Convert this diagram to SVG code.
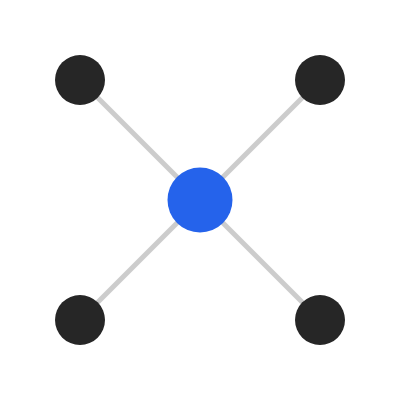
<svg xmlns="http://www.w3.org/2000/svg" width="400" height="400" viewBox="0 0 400 400">
<style>
.edge{stroke:#cccccc;stroke-width:5;}
.leaf{fill:#262626;}
.hub{fill:#2563eb;}
</style>
<rect width="400" height="400" fill="#ffffff"/>
<g id="connectors">
<line class="edge" x1="200" y1="200" x2="80" y2="80"/>
<line class="edge" x1="200" y1="200" x2="320" y2="80"/>
<line class="edge" x1="200" y1="200" x2="80" y2="320"/>
<line class="edge" x1="200" y1="200" x2="320" y2="320"/>
</g>
<g id="node-tl"><circle class="leaf" cx="80" cy="80" r="25"/></g>
<g id="node-tr"><circle class="leaf" cx="320" cy="80" r="25"/></g>
<g id="node-bl"><circle class="leaf" cx="80" cy="320" r="25"/></g>
<g id="node-br"><circle class="leaf" cx="320" cy="320" r="25"/></g>
<g id="node-center"><circle class="hub" cx="200" cy="200" r="32.5"/></g>
</svg>
